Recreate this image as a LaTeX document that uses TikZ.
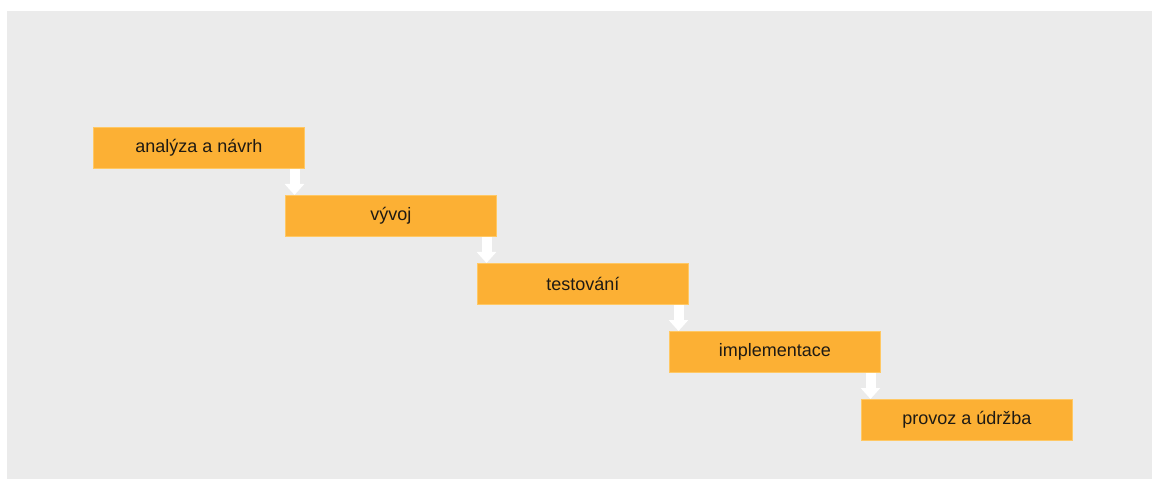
\documentclass[tikz,border=0pt]{standalone}
\usepackage{fontspec}
\setmainfont{Liberation Sans}
\usetikzlibrary{calc,arrows.meta}
\definecolor{bgray}{HTML}{EBEBEB}
\definecolor{borange}{HTML}{FCB034}
\definecolor{bedge}{HTML}{FFC864}
\definecolor{btext}{HTML}{1E1A14}
\tikzset{
  stepbox/.style={fill=borange, draw=bedge, line width=0.8pt, minimum width=211pt, minimum height=41pt,
    inner sep=0pt, anchor=north west, text=btext, font=\fontsize{18}{22}\selectfont},
  flowarrow/.style={draw=white, line width=10pt, -{Triangle[width=19pt,length=11pt]}, white}
}
\begin{document}
\begin{tikzpicture}[x=1pt,y=-1pt]
\useasboundingbox (0,0) rectangle (1154,481);
\fill[bgray] (7,11) rectangle (1152,479);
\node[stepbox] (s1) at (93,127) {\raisebox{-1.2pt}{analýza a návrh}};
\node[stepbox] (s2) at (285,195) {\raisebox{-1.2pt}{vývoj}};
\node[stepbox] (s3) at (477,263) {\raisebox{-1.2pt}{testování}};
\node[stepbox] (s4) at (669,331) {\raisebox{-1.2pt}{implementace}};
\node[stepbox] (s5) at (861,399) {\raisebox{-1.2pt}{provoz a údržba}};
\foreach \a/\b in {s1/s2,s2/s3,s3/s4,s4/s5}{
  \coordinate (x\b) at ($(\b.north west)+(9.5,0)$);
  \draw[flowarrow] (\a.south -| x\b) -- (x\b);
}
\end{tikzpicture}
\end{document}
